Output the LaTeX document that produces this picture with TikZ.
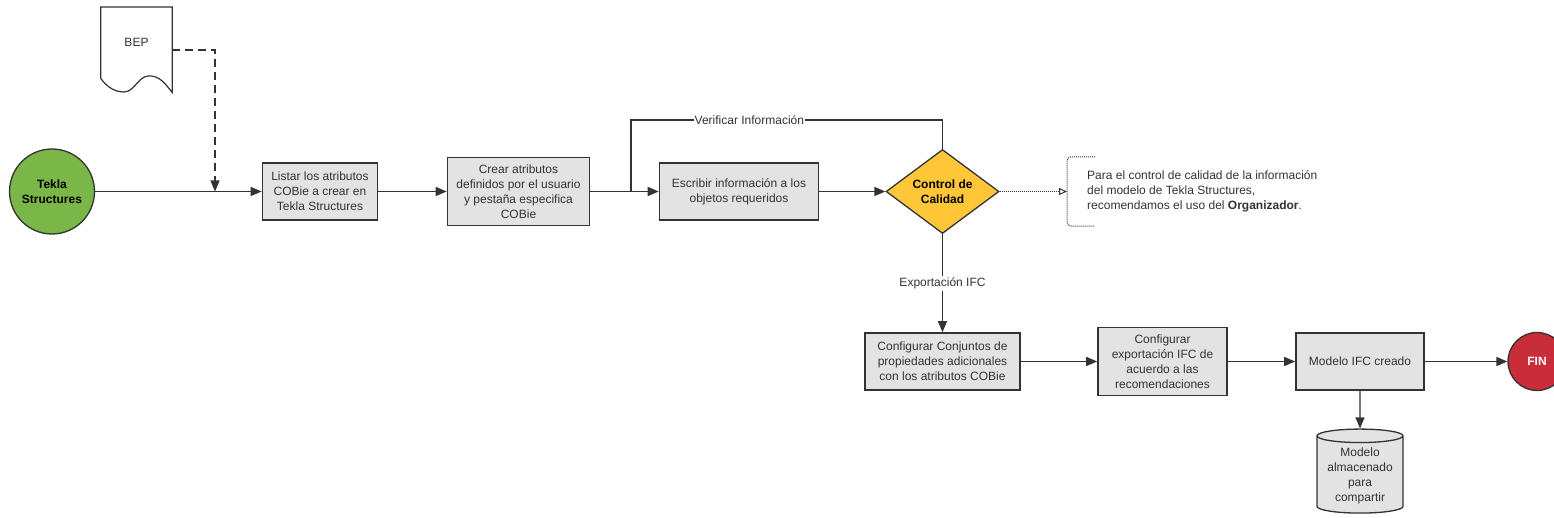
\documentclass[tikz,border=0pt]{standalone}
\usepackage{fontspec}
\setmainfont{Liberation Sans}
\usepackage{xcolor}
\usepackage{tikz}
\usetikzlibrary{shapes.geometric, arrows.meta, positioning, calc}
\definecolor{linegray}{HTML}{333333}
\definecolor{boxgray}{HTML}{E3E3E3}
\definecolor{startgreen}{HTML}{7AB648}
\definecolor{checkyellow}{HTML}{FFC638}
\definecolor{endred}{HTML}{C92D39}
\newcommand{\flowfont}{\fontsize{12}{15}\selectfont}
\tikzstyle{process} = [rectangle, minimum height=57pt, text centered, align=center, draw=linegray, fill=boxgray, line width=1.6pt, inner sep=2pt]
\tikzstyle{terminal} = [circle, draw=linegray, line width=1.3pt, text centered, align=center, font=\flowfont\bfseries, inner sep=0pt]
\tikzstyle{decision} = [diamond, minimum width=113pt, minimum height=84pt, inner sep=0pt, align=center, draw=linegray, fill=checkyellow, line width=1.3pt, font=\flowfont\bfseries, text=black]
\tikzstyle{storage} = [cylinder, shape border rotate=90, aspect=0.2, minimum width=86pt, minimum height=84pt, align=center, draw=linegray, fill=boxgray, line width=1.3pt, inner sep=1pt]
\tikzstyle{arrow} = [line width=1.3pt, draw=linegray, -{Triangle[length=11pt,width=9pt]}]
\tikzstyle{dashedarrow} = [arrow, dash pattern=on 8pt off 5pt]
\tikzstyle{notearrow} = [line width=1pt, draw=linegray, dash pattern=on 1pt off 1pt, -{Triangle[open,length=8pt,width=7pt]}]

\begin{document}
\begin{tikzpicture}[x=1pt, y=-1pt, font=\flowfont, text=linegray]
            \useasboundingbox (0,0) rectangle (1554,518);

            % Start and source document
            \node[terminal, fill=startgreen, minimum size=85pt, text=black] (tekla) at (52,191.5) {Tekla\\Structures};
            \node[minimum width=71pt, minimum height=71pt, inner sep=0pt, anchor=north] (bep) at (136.5,7) {BEP};
            \draw[linegray, line width=1.2pt] (bep.north west) -- (bep.north east) -- ($(bep.south east)+(0,14)$)
                .. controls (166,85) and (160,75) .. (148,76)
                .. controls (138,77) and (134,92) .. (124,92)
                .. controls (114,92) and (106,86) .. (bep.south west) -- cycle;
            \coordinate (bepout) at (172,50);
            \coordinate (bepin) at (215,191.5);

            % Upper row
            \node[process, minimum width=115pt] (listar) at (320,191.5) {Listar los atributos\\COBie a crear en\\Tekla Structures};
            \node[process, minimum width=142pt, minimum height=68pt] (crear) at (518.5,191.5) {Crear atributos\\definidos por el usuario\\y pestaña especifica\\COBie};
            \node[process, minimum width=159pt] (escribir) at (739,191.5) {Escribir información a los\\objetos requeridos};
            \node[decision] (control) at (942.5,191.5) {Control de\\Calidad};
            \node[anchor=west, align=left, minimum height=69pt, inner xsep=20pt, inner ysep=0pt] (note) at (1067,191.5) {Para el control de calidad de la información\\del modelo de Tekla Structures,\\recomendamos el uso del \textbf{Organizador}.};
            \coordinate (loopjoin) at (631,191.5);
            \coordinate (looptop) at (631,120);

            % Lower row
            \node[process, minimum width=155pt] (conjuntos) at (942.5,361.5) {Configurar Conjuntos de\\propiedades adicionales\\con los atributos COBie};
            \node[process, minimum width=129pt, minimum height=68pt] (exportar) at (1162.5,361.5) {Configurar\\exportación IFC de\\acuerdo a las\\recomendaciones};
            \node[process, minimum width=128pt] (modelo) at (1360,361.5) {Modelo IFC creado};
            \node[terminal, fill=endred, minimum size=58pt, text=white] (fin) at (1537,361.5) {FIN};
            \node[storage] (almacen) at (1360,475.5) {Modelo\\almacenado\\para\\compartir};

            % Arrows
            \draw[arrow] (tekla) -- (listar);
            \draw[dashedarrow] (bepout) -| (bepin);
            \draw[arrow] (listar) -- (crear);
            \draw[arrow] (crear) -- (escribir);
            \draw[line width=1.3pt, linegray] (control.north) -- (control.north |- looptop) -- node[fill=white, inner sep=1pt, pos=0.62] {Verificar Información} (looptop) -- (loopjoin);
            \draw[arrow] (escribir) -- (control);
            \draw[notearrow] (control.east) -- (note.west);
            \draw[linegray, line width=1pt, dash pattern=on 1pt off 1pt, rounded corners=4pt] ($(note.north west)+(28,0)$) -- (note.north west) -- (note.south west) -- ($(note.south west)+(28,0)$);
            \draw[arrow] (control) -- node[fill=white, inner sep=2pt] {Exportación IFC} (conjuntos);
            \draw[arrow] (conjuntos) -- (exportar);
            \draw[arrow] (exportar) -- (modelo);
            \draw[arrow] (modelo) -- (fin);
            \draw[arrow] (modelo) -- (almacen);
        \end{tikzpicture}
\end{document}
